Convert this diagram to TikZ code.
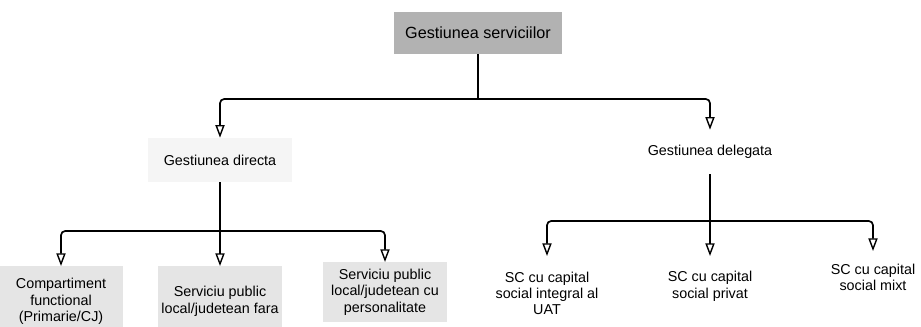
\documentclass[tikz,border=0pt]{standalone}
\usepackage{fontspec}
\setmainfont{Liberation Sans}
\usetikzlibrary{arrows.meta}

\tikzset{
  box/.style={align=center, font=\fontsize{10.2}{11.6}\selectfont, inner sep=2pt},
  link/.style={line width=1.2pt, rounded corners=3pt},
  tip/.style={link, -{Triangle[open, length=9pt, width=6.5pt, line width=1pt]}},
}

\begin{document}
\begin{tikzpicture}[x=0.025cm, y=-0.025cm]
\useasboundingbox (0,0) rectangle (921,327);

\path (478,33) node[box, font=\fontsize{11.5}{13}\selectfont, fill=black!30, minimum width=4.2cm, minimum height=1.05cm] (top) {Gestiunea serviciilor};

\path (220,160) node[box, fill=black!4, minimum width=3.6cm, minimum height=1.1cm] (directa) {Gestiunea directa};
\path (710,152) node[box, minimum width=3.6cm, minimum height=1.1cm] (delegata) {Gestiunea delegata};

\coordinate (split1) at (478,99);
\coordinate (split2) at (220,231);
\coordinate (split3) at (710,221);

% gestiune directa
\path (61,266) node[box, anchor=north, fill=black!10, minimum width=3.1cm, minimum height=1.75cm] (comp) {Compartiment\\functional\\(Primarie/CJ)};
\path (220,266) node[box, anchor=north, fill=black!10, minimum width=3.1cm, minimum height=1.75cm] (fara) {Serviciu public\\local/judetean fara};
\path (385,262) node[box, anchor=north, fill=black!10, minimum width=3.1cm, minimum height=1.5cm] (pers) {Serviciu public\\local/judetean cu\\personalitate};

% gestiune delegata
\path (547,256) node[box, anchor=north, minimum height=1.85cm] (integral) {SC cu capital\\social integral al\\UAT};
\path (710,256) node[box, anchor=north, minimum height=1.5cm] (privat) {SC cu capital\\social privat};
\path (873,251) node[box, anchor=north, minimum height=1.3cm] (mixt) {SC cu capital\\social mixt};

\draw[link] (top.south) -- (split1);
\draw[tip] (split1) -| (directa.north);
\draw[tip] (split1) -| (delegata.north);

\draw[link] (directa.south) -- (split2);
\foreach \n in {comp,fara,pers}
{
    \draw[tip] (split2) -| (\n.north);
}

\draw[link] (delegata.south) -- (split3);
\foreach \n in {integral,privat,mixt}
{
    \draw[tip] (split3) -| (\n.north);
}

\end{tikzpicture}
\end{document}
